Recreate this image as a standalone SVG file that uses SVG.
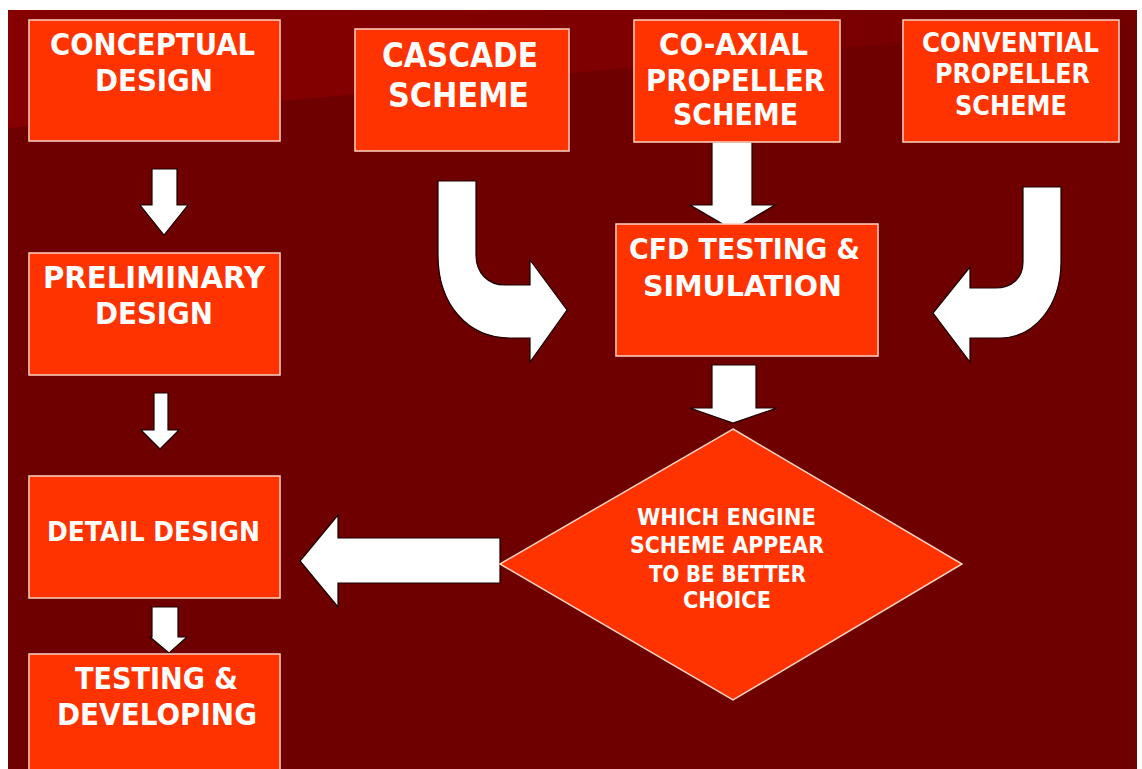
<svg xmlns="http://www.w3.org/2000/svg" width="1142" height="769" viewBox="0 0 1142 769">
<defs>
<linearGradient id="band" x1="0" y1="0" x2="1" y2="0">
<stop offset="0" stop-color="#860000"/>
<stop offset="0.6" stop-color="#7E0000"/>
<stop offset="1" stop-color="#720000"/>
</linearGradient>
</defs>
<style>
.box{fill:#FF3300;stroke:#FFD3C4;stroke-width:1.5}
.arrow{fill:#FFFFFF;stroke:#1A0000;stroke-width:1.2;stroke-linejoin:miter}
.t{font-family:"DejaVu Sans","Verdana",sans-serif;font-weight:bold;fill:#FFFFFF}
</style>
<rect x="0" y="0" width="1142" height="769" fill="#FFFFFF"/>
<rect x="8" y="10" width="1129" height="759" fill="#6E0000"/>
<path d="M8,10 H1137 V24 C900,40 500,80 8,128 Z" fill="url(#band)"/>

<g id="connectors">
<path class="arrow" d="M152,169 H177 V205 H188 L164,235 L140,205 H152 Z"/>
<path class="arrow" d="M154,393 H168 V430 H179 L160,449 L141,430 H154 Z"/>
<path class="arrow" d="M152,607 H178 V637 H187 L169,653 L150,637 H152 Z"/>
<path class="arrow" d="M712,142 H752 V205 H775 L733,230 L690,205 H712 Z"/>
<path class="arrow" d="M712,365 H756 V408 H777 L733,423 L690,408 H712 Z"/>
<path class="arrow" d="M500,538 V583 H338 V607 L300,561 L338,515 V538 Z"/>
<path class="arrow" d="M438,181 H476 V255 C476,273 488,285 505,285 H530 V260 L567,310 L530,362 V338 H510 C468,338 438,305 438,255 Z"/>
<path class="arrow" d="M1061,187 H1023 V262 C1023,278 1012,288 995,288 H970 V267 L933,313 L970,362 V338 H1000 C1035,338 1061,305 1061,262 Z"/>
</g>

<g id="conceptual">
<rect class="box" x="29" y="20" width="251" height="121"/>
<text class="t" x="50" y="55" font-size="30" textLength="205" lengthAdjust="spacingAndGlyphs">CONCEPTUAL</text>
<text class="t" x="95" y="91" font-size="30" textLength="118" lengthAdjust="spacingAndGlyphs">DESIGN</text>
</g>

<g id="cascade">
<rect class="box" x="355" y="29" width="214" height="122"/>
<text class="t" x="382" y="67" font-size="33" textLength="156" lengthAdjust="spacingAndGlyphs">CASCADE</text>
<text class="t" x="388" y="107" font-size="33" textLength="141" lengthAdjust="spacingAndGlyphs">SCHEME</text>
</g>

<g id="coaxial">
<rect class="box" x="634" y="20" width="206" height="122"/>
<text class="t" x="659" y="55" font-size="30" textLength="149" lengthAdjust="spacingAndGlyphs">CO-AXIAL</text>
<text class="t" x="646" y="91" font-size="30" textLength="179" lengthAdjust="spacingAndGlyphs">PROPELLER</text>
<text class="t" x="673" y="125" font-size="30" textLength="125" lengthAdjust="spacingAndGlyphs">SCHEME</text>
</g>

<g id="conventional">
<rect class="box" x="903" y="20" width="216" height="122"/>
<text class="t" x="922" y="52" font-size="26" textLength="177" lengthAdjust="spacingAndGlyphs">CONVENTIAL</text>
<text class="t" x="935" y="83" font-size="26" textLength="155" lengthAdjust="spacingAndGlyphs">PROPELLER</text>
<text class="t" x="955" y="115" font-size="26" textLength="112" lengthAdjust="spacingAndGlyphs">SCHEME</text>
</g>

<g id="preliminary">
<rect class="box" x="29" y="253" width="251" height="122"/>
<text class="t" x="43" y="288" font-size="30" textLength="222" lengthAdjust="spacingAndGlyphs">PRELIMINARY</text>
<text class="t" x="95" y="324" font-size="30" textLength="118" lengthAdjust="spacingAndGlyphs">DESIGN</text>
</g>

<g id="cfd">
<rect class="box" x="616" y="224" width="262" height="132"/>
<text class="t" x="629" y="259" font-size="29" textLength="231" lengthAdjust="spacingAndGlyphs">CFD TESTING &amp;</text>
<text class="t" x="643" y="296" font-size="29" textLength="199" lengthAdjust="spacingAndGlyphs">SIMULATION</text>
</g>

<g id="detail">
<rect class="box" x="29" y="476" width="251" height="122"/>
<text class="t" x="47" y="541" font-size="26" textLength="213" lengthAdjust="spacingAndGlyphs">DETAIL DESIGN</text>
</g>

<g id="decision">
<polygon class="box" points="733,429 962,564 733,700 500,564"/>
<text class="t" x="637" y="525" font-size="23" textLength="179" lengthAdjust="spacingAndGlyphs">WHICH ENGINE</text>
<text class="t" x="630" y="553" font-size="23" textLength="194" lengthAdjust="spacingAndGlyphs">SCHEME APPEAR</text>
<text class="t" x="649" y="582" font-size="23" textLength="157" lengthAdjust="spacingAndGlyphs">TO BE BETTER</text>
<text class="t" x="683" y="608" font-size="23" textLength="88" lengthAdjust="spacingAndGlyphs">CHOICE</text>
</g>

<g id="testing">
<rect class="box" x="29" y="654" width="251" height="130"/>
<text class="t" x="75" y="689" font-size="30" textLength="163" lengthAdjust="spacingAndGlyphs">TESTING &amp;</text>
<text class="t" x="57" y="725" font-size="30" textLength="200" lengthAdjust="spacingAndGlyphs">DEVELOPING</text>
</g>
</svg>
